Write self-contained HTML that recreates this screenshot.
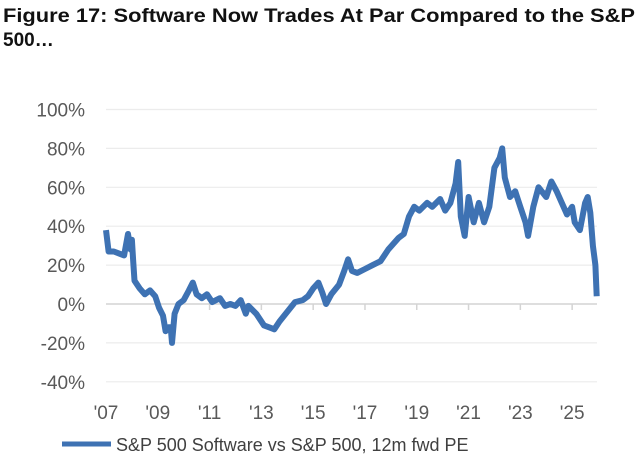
<!DOCTYPE html>
<html><head><meta charset="utf-8"><style>
html,body{margin:0;padding:0;background:#fff;width:640px;height:471px;overflow:hidden}
svg{display:block;font-family:"Liberation Sans",Arial,sans-serif}
</style></head><body>
<svg id="chart" width="640" height="471" viewBox="0 0 640 471">
<text x="3" y="22" font-size="19" font-weight="bold" fill="#111" textLength="632" lengthAdjust="spacingAndGlyphs">Figure 17: Software Now Trades At Par Compared to the S&amp;P</text>
<text x="3" y="46" font-size="19" font-weight="bold" fill="#111">500…</text>
<g id="grid"></g><g id="yticks"></g><g id="xticks"></g><g id="series"></g>
<g>
<line x1="62" y1="444" x2="111" y2="444" stroke="#3e72b3" stroke-width="5"/>
<text x="116" y="451" font-size="18" fill="#404040">S&amp;P 500 Software vs S&amp;P 500, 12m fwd PE</text>
</g>
</svg>
<script>
const yTicks=[100,80,60,40,20,0,-20,-40];
const xTickYears=[2007,2009,2011,2013,2015,2017,2019,2021,2023,2025];
const xTickLabels=["'07","'09","'11","'13","'15","'17","'19","'21","'23","'25"];
const years=[2007.0,2007.1,2007.3,2007.5,2007.7,2007.85,2007.95,2008.0,2008.05,2008.1,2008.3,2008.5,2008.7,2008.9,2009.05,2009.2,2009.3,2009.4,2009.5,2009.55,2009.65,2009.8,2010.0,2010.2,2010.35,2010.5,2010.7,2010.9,2011.1,2011.4,2011.6,2011.8,2012.0,2012.2,2012.4,2012.5,2012.8,2013.1,2013.3,2013.5,2013.7,2014.0,2014.3,2014.6,2014.8,2015.0,2015.2,2015.35,2015.5,2015.7,2016.0,2016.2,2016.35,2016.5,2016.7,2017.0,2017.3,2017.6,2017.9,2018.3,2018.5,2018.7,2018.9,2019.1,2019.4,2019.6,2019.9,2020.1,2020.3,2020.5,2020.6,2020.7,2020.85,2021.0,2021.2,2021.4,2021.6,2021.8,2022.0,2022.2,2022.3,2022.4,2022.6,2022.8,2023.0,2023.2,2023.3,2023.5,2023.7,2024.0,2024.2,2024.4,2024.6,2024.8,2025.0,2025.1,2025.3,2025.5,2025.6,2025.7,2025.8,2025.9,2025.95];
const values=[38,27,27,26,25,36,28,33,22,12,8,5,7,4,-2,-6,-14,-12,-12,-20,-5,0,2,7,11,5,3,5,1,3,-1,0,-1,2,-5,-1,-5,-11,-12,-13,-9,-4,1,2,4,8,11,6,0,5,10,17,23,17,16,18,20,22,28,34,36,45,50,48,52,50,54,48,52,62,73,45,35,55,42,52,42,50,70,75,80,65,55,58,50,42,35,50,60,55,63,58,52,46,50,42,38,52,55,47,30,20,4];
const NS="http://www.w3.org/2000/svg";
const X0=106,X1=597,Y0=304,PER20=38.9;
const xs=y=>X0+(y-2007)*(X1-X0)/(2025.96-2007);
const ys=v=>Y0-v/20*PER20;
const grid=document.getElementById('grid'),yt=document.getElementById('yticks'),xt=document.getElementById('xticks'),ser=document.getElementById('series');
yTicks.forEach(v=>{
 const l=document.createElementNS(NS,'line');
 l.setAttribute('x1',X0);l.setAttribute('x2',X1);l.setAttribute('y1',ys(v));l.setAttribute('y2',ys(v));
 l.setAttribute('stroke',v===0?'#d4d4d4':'#ececec');l.setAttribute('stroke-width',v===0?1.5:1.2);
 
 
 grid.appendChild(l);
 const t=document.createElementNS(NS,'text');
 t.setAttribute('x',85);t.setAttribute('y',ys(v)+7);t.setAttribute('text-anchor','end');
 t.setAttribute('font-size','19');t.setAttribute('fill','#595959');t.textContent=v+'%';
 
 
 yt.appendChild(t);
});
xTickYears.forEach((yr,i)=>{
 const x=xs(yr);
 if(i>0){const m=document.createElementNS(NS,'line');
 m.setAttribute('x1',x);m.setAttribute('x2',x);m.setAttribute('y1',Y0);m.setAttribute('y2',Y0+6);
 m.setAttribute('stroke','#d4d4d4');m.setAttribute('stroke-width','1.5');
 
 
 xt.appendChild(m);}
 const t=document.createElementNS(NS,'text');
 t.setAttribute('x',x);t.setAttribute('y',419);t.setAttribute('text-anchor','middle');
 t.setAttribute('font-size','19');t.setAttribute('fill','#595959');t.textContent=xTickLabels[i];
 
 
 xt.appendChild(t);
});
const p=document.createElementNS(NS,'polyline');
p.setAttribute('points',years.map((y,i)=>xs(y).toFixed(1)+','+ys(values[i]).toFixed(1)).join(' '));
p.setAttribute('fill','none');p.setAttribute('stroke','#3e72b3');p.setAttribute('stroke-width','6');p.setAttribute('stroke-linejoin','round');


ser.appendChild(p);
</script>
</body></html>
